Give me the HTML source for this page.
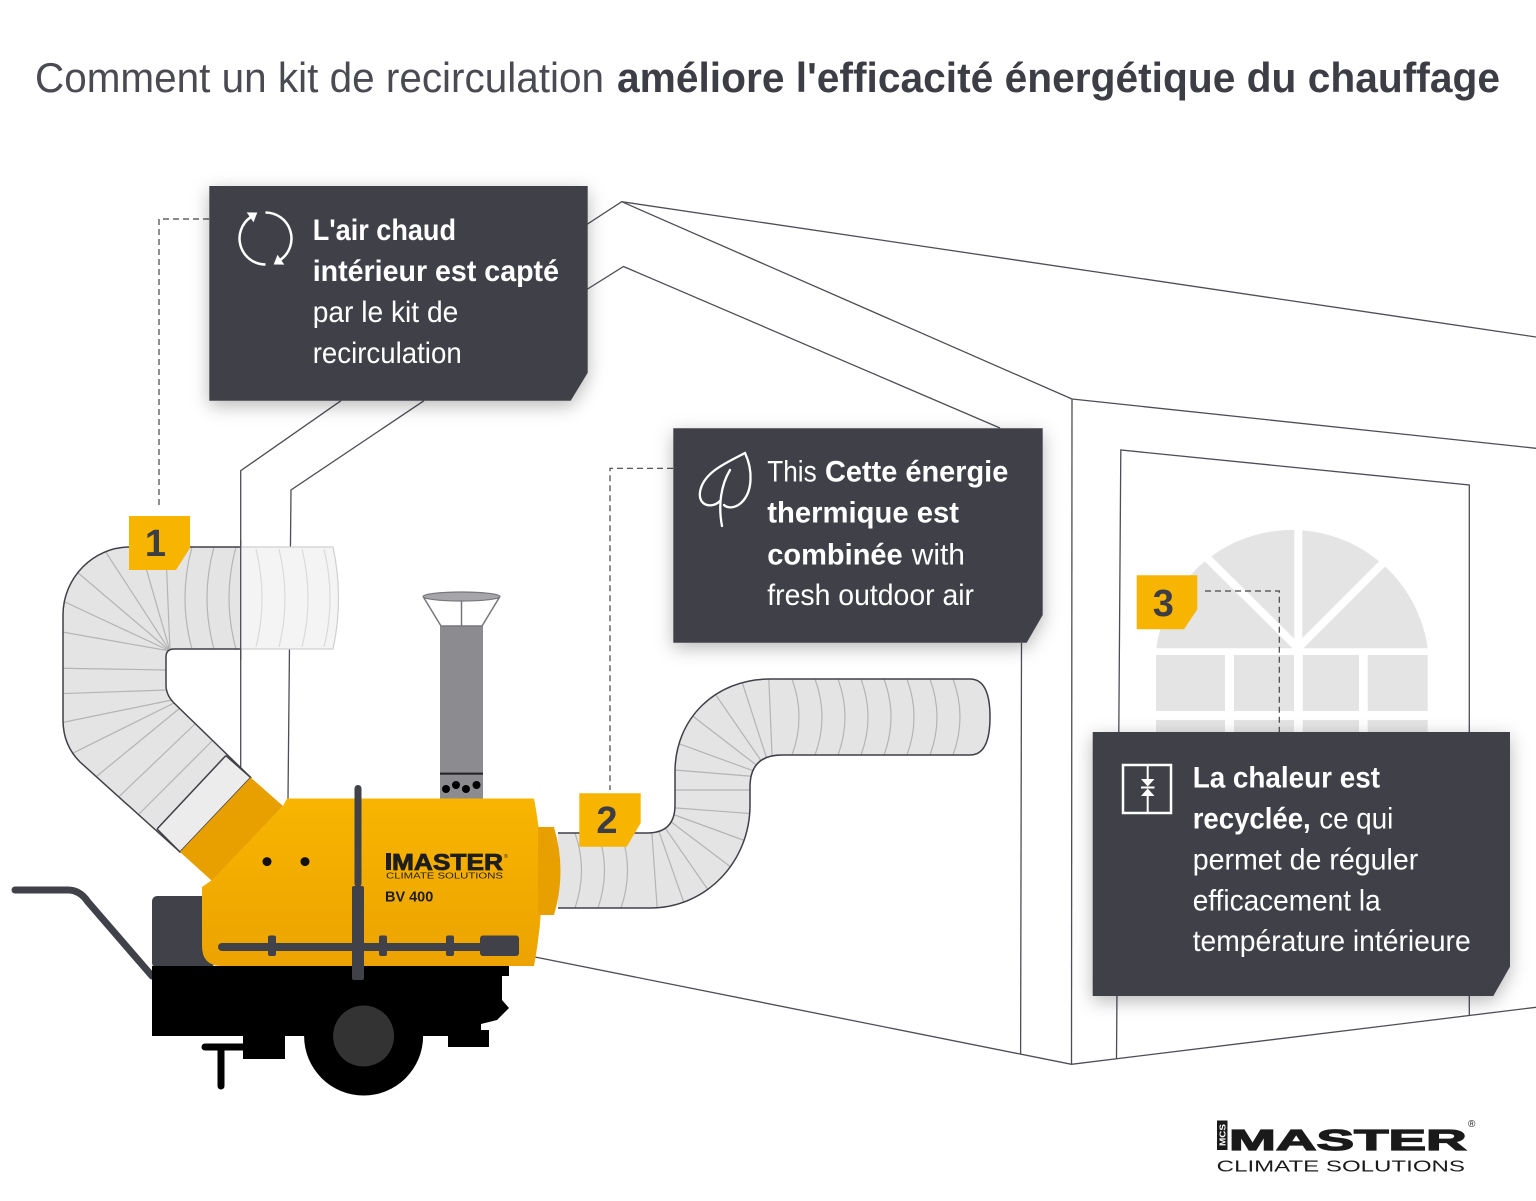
<!DOCTYPE html>
<html>
<head>
<meta charset="utf-8">
<style>
html,body{margin:0;padding:0;background:#fff;}
svg{display:block;}
text{font-family:"Liberation Sans",sans-serif;}
</style>
</head>
<body>
<svg width="1536" height="1201" viewBox="0 0 1536 1201" xmlns="http://www.w3.org/2000/svg">
<defs>
  <filter id="sh" x="-20%" y="-20%" width="140%" height="150%">
    <feDropShadow dx="0" dy="5" stdDeviation="9" flood-color="#000" flood-opacity="0.28"/>
  </filter>
  <linearGradient id="yb" x1="0" y1="0" x2="0" y2="1">
    <stop offset="0" stop-color="#f8b500"/>
    <stop offset="1" stop-color="#eca300"/>
  </linearGradient>
  <clipPath id="d1c"><path d="M240,547 L130,547 C93,547 63,578 63,615 L63,720 Q63,745 80,762 L180,852 L250.7,777.5 L174,703 Q166,695 166,685 L166,657 Q166,649 174,649 L240,649 Z"/></clipPath>
  <clipPath id="d2c"><path d="M558,833 L647,833 Q675,833 675,805 L675,772 C675,718 716,679 770,679 L970,679 Q990,679 990,717 Q990,755 970,755 L782,755 Q750,755 750,787 L750,805 C750,862 706,908 650,908 L558,908 Z"/></clipPath>
  <clipPath id="archc"><rect x="1150" y="520" width="290" height="128.3"/></clipPath>
</defs>

<!-- Title -->
<text x="35" y="92" font-size="42" fill="#4a4a52" textLength="569" lengthAdjust="spacingAndGlyphs">Comment un kit de recirculation</text>
<text x="617" y="92" font-size="42" font-weight="bold" fill="#3d3d45" textLength="883" lengthAdjust="spacingAndGlyphs">améliore l'efficacité énergétique du chauffage</text>

<!-- House lines -->
<g fill="none" stroke="#4d4d55" stroke-width="1.3">
  <path d="M586,225 L621.7,201.7 L1536,337"/>
  <path d="M621.7,201.7 L1072,399"/>
  <path d="M586,290 L623.5,266.5 L1000,428"/>
  <path d="M1072,399 L1536,448.3"/>
  <path d="M1072,399 L1071.5,1064.3"/>
  <path d="M1021.5,643 L1020.6,1054"/>
  <path d="M520,954 L1071.5,1064.3 L1536,1007.3"/>
  <path d="M1116.5,1058.7 L1120.8,450 L1469.3,485 L1469.3,1016"/>
  <path d="M341,400.7 L240.7,470.7 L240.7,778"/>
  <path d="M424,400.7 L291,490 L288,799"/>
</g>

<!-- Window -->
<g fill="#e4e4e4">
  <g clip-path="url(#archc)">
    <circle cx="1292" cy="667" r="137"/>
  </g>
  <rect x="1156" y="655" width="69" height="56"/>
  <rect x="1234" y="655" width="60" height="56"/>
  <rect x="1302.7" y="655" width="56.3" height="56"/>
  <rect x="1367.7" y="655" width="60" height="56"/>
  <rect x="1156" y="720" width="69" height="20"/>
  <rect x="1234" y="720" width="60" height="20"/>
  <rect x="1302.7" y="720" width="56.3" height="20"/>
  <rect x="1367.7" y="720" width="60" height="20"/>
</g>
<g stroke="#fff" stroke-width="8" fill="none">
  <line x1="1298.3" y1="520" x2="1298.3" y2="650"/>
  <line x1="1298" y1="648" x2="1203" y2="554"/>
  <line x1="1298" y1="648" x2="1388" y2="558"/>
</g>

<!-- Faded duct extension -->
<path d="M240,547 L333,547 Q344,598 333,649 L240,649 Z" fill="#f4f4f4" stroke="#cfcfcf" stroke-width="1.2"/>
<g fill="none" stroke="#dadada" stroke-width="1.2">
  <path d="M256,549 Q268,598 256,647"/>
  <path d="M279,549 Q291,598 279,647"/>
  <path d="M302,549 Q314,598 302,647"/>
  <path d="M324,549 Q336,598 324,647"/>
</g>
<line x1="240.7" y1="540" x2="240.7" y2="660" stroke="#4d4d55" stroke-width="1.3"/>

<!-- Duct 1 -->
<path d="M240,547 L130,547 C93,547 63,578 63,615 L63,720 Q63,745 80,762 L180,852 L250.7,777.5 L174,703 Q166,695 166,685 L166,657 Q166,649 174,649 L240,649 Z" fill="#e4e4e4"/>
<g clip-path="url(#d1c)" fill="none" stroke="#b4b4b4" stroke-width="1.2">
  <path d="M192,547 Q178,598 192,649"/>
  <path d="M214,547 Q200,598 214,649"/>
  <path d="M236,547 Q222,598 236,649"/>
  <line x1="170" y1="651" x2="45" y2="629"/>
  <line x1="170" y1="651" x2="52" y2="596"/>
  <line x1="170" y1="651" x2="70" y2="566"/>
  <line x1="170" y1="651" x2="98" y2="540"/>
  <line x1="170" y1="651" x2="135" y2="530"/>
  <line x1="170" y1="651" x2="165" y2="530"/>
  <line x1="166" y1="670" x2="50" y2="668"/>
  <line x1="166" y1="690" x2="50" y2="694"/>
  <line x1="172" y1="700" x2="50" y2="725"/>
  <line x1="174" y1="703" x2="55" y2="762"/>
  <line x1="180" y1="708" x2="80" y2="790"/>
  <line x1="195" y1="724" x2="105" y2="810"/>
  <line x1="212" y1="741" x2="128" y2="825"/>
</g>
<path d="M240,547 L130,547 C93,547 63,578 63,615 L63,720 Q63,745 80,762 L180,852 L250.7,777.5 L174,703 Q166,695 166,685 L166,657 Q166,649 174,649 L240,649" fill="none" stroke="#3f3f47" stroke-width="1.5"/>
<path d="M225.8,755.6 L157,829 L180,852 L250.7,777.5 Z" fill="#ececec"/>
<line x1="225.8" y1="755.6" x2="157" y2="829" stroke="#3f3f47" stroke-width="1.5"/>
<path d="M157,829 L180,852 L250.7,777.5 L225.8,755.6" fill="none" stroke="#3f3f47" stroke-width="1.5"/>

<!-- Duct 2 -->
<path d="M558,833 L647,833 Q675,833 675,805 L675,772 C675,718 716,679 770,679 L970,679 Q990,679 990,717 Q990,755 970,755 L782,755 Q750,755 750,787 L750,805 C750,862 706,908 650,908 L558,908 Z" fill="#e4e4e4"/>
<g clip-path="url(#d2c)" fill="none" stroke="#b4b4b4" stroke-width="1.2">
  <path d="M792,679 Q806,717 792,755"/>
  <path d="M815,679 Q829,717 815,755"/>
  <path d="M838,679 Q852,717 838,755"/>
  <path d="M861,679 Q875,717 861,755"/>
  <path d="M884,679 Q898,717 884,755"/>
  <path d="M907,679 Q921,717 907,755"/>
  <path d="M930,679 Q944,717 930,755"/>
  <path d="M953,679 Q967,717 953,755"/>
  <line x1="773" y1="778" x2="650" y2="768"/>
  <line x1="773" y1="778" x2="655" y2="735"/>
  <line x1="773" y1="778" x2="672" y2="700"/>
  <line x1="773" y1="778" x2="700" y2="672"/>
  <line x1="773" y1="778" x2="735" y2="660"/>
  <line x1="773" y1="778" x2="768" y2="660"/>
  <line x1="670" y1="790" x2="760" y2="790"/>
  <line x1="650" y1="806" x2="770" y2="815"/>
  <line x1="650" y1="806" x2="765" y2="848"/>
  <line x1="650" y1="806" x2="748" y2="880"/>
  <line x1="650" y1="806" x2="722" y2="910"/>
  <line x1="650" y1="806" x2="690" y2="920"/>
  <line x1="650" y1="806" x2="658" y2="920"/>
  <path d="M575,833 Q588,870 575,908"/>
  <path d="M598,833 Q611,870 598,908"/>
  <path d="M621,833 Q634,870 621,908"/>
</g>
<path d="M558,833 L647,833 Q675,833 675,805 L675,772 C675,718 716,679 770,679 L970,679 Q990,679 990,717 Q990,755 970,755 L782,755 Q750,755 750,787 L750,805 C750,862 706,908 650,908 L558,908" fill="none" stroke="#3f3f47" stroke-width="1.5"/>

<!-- Heater: tow handle, stand, chassis -->
<path d="M15,890 L68,890 Q80,890 88,902 L152,976" fill="none" stroke="#414149" stroke-width="7" stroke-linecap="round" stroke-linejoin="round"/>
<path d="M205,1047 H245 M221,1047 V1086" stroke="#000" stroke-width="7" stroke-linecap="round" fill="none"/>
<rect x="152" y="896" width="62" height="72" rx="5" fill="#414149"/>
<path d="M152,966 H509 V976 H502 V1000 L509,1008 L497,1020 L481,1024 V1030 H489 V1047 H448 V1036 H285 V1059 H243 V1036 H152 Z" fill="#000"/>
<circle cx="363.6" cy="1036" r="59.5" fill="#000"/>
<circle cx="363.6" cy="1036" r="30.5" fill="#333"/>

<!-- Chimney -->
<rect x="440" y="626" width="43" height="173" fill="#8b8b90"/>
<line x1="440" y1="773.6" x2="483" y2="773.6" stroke="#222" stroke-width="2"/>
<g fill="#000">
  <circle cx="446" cy="789" r="4"/>
  <circle cx="456" cy="785" r="4"/>
  <circle cx="466" cy="789" r="4"/>
  <circle cx="476.5" cy="785" r="4"/>
</g>
<path d="M424,598 L499,598 L482,626 L441,626 Z" fill="#fff" stroke="#77777c" stroke-width="1.5"/>
<line x1="461.5" y1="598" x2="461.5" y2="626" stroke="#77777c" stroke-width="1.5"/>
<ellipse cx="461.5" cy="596.5" rx="38.5" ry="4.5" fill="#a5a5aa" stroke="#77777c" stroke-width="1.2"/>

<!-- Collar + body -->
<path d="M250.7,777.5 L283,806 L212,881 L180,852 Z" fill="#e8a000"/>
<path d="M287,798.5 L534,798.5 Q550,882 534,966 L222,966 Q202,966 202,946 L202,887 L212,880 L283,806 Z" fill="url(#yb)"/>
<path d="M538,827 L554,827 Q567,871 554,915 L538,915 Z" fill="#e8a000"/>

<!-- Body details -->
<circle cx="267" cy="861.6" r="4.5" fill="#111"/>
<circle cx="305" cy="861.6" r="4.5" fill="#111"/>
<rect x="354.5" y="785" width="7" height="102" rx="3.5" fill="#414149"/>
<rect x="352" y="886" width="12" height="94" rx="2" fill="#414149"/>
<rect x="218" y="943" width="266" height="8" rx="4" fill="#414149"/>
<rect x="480" y="935.5" width="39" height="20.5" rx="3" fill="#414149"/>
<rect x="268" y="935.5" width="8" height="20.5" rx="2" fill="#414149"/>
<rect x="379" y="935.5" width="8" height="20.5" rx="2" fill="#414149"/>
<rect x="446" y="935.5" width="8" height="20.5" rx="2" fill="#414149"/>

<!-- Body logo -->
<rect x="386" y="853" width="5" height="17" fill="#1e1e1e"/>
<text x="392" y="870" font-size="23" font-weight="bold" fill="#1e1e1e" stroke="#1e1e1e" stroke-width="0.8" textLength="111" lengthAdjust="spacingAndGlyphs">MASTER</text>
<text x="504" y="858" font-size="5" fill="#1e1e1e">®</text>
<text x="386" y="878.5" font-size="8" fill="#1e1e1e" textLength="117" lengthAdjust="spacingAndGlyphs">CLIMATE SOLUTIONS</text>
<text x="385" y="901.7" font-size="15" font-weight="bold" fill="#1e1e1e" textLength="48.3" lengthAdjust="spacingAndGlyphs">BV 400</text>

<!-- Dashed leaders -->
<g fill="none" stroke="#444" stroke-width="1.2" stroke-dasharray="6 4">
  <path d="M209,219 H159 V508"/>
  <path d="M673,468.3 H610 V790"/>
  <path d="M1205,591 H1279.3 V732"/>
</g>

<!-- Box 1 -->
<path d="M209.3,186 H587.7 V372.7 L570.7,400.7 H209.3 Z" fill="#414149" filter="url(#sh)"/>
<g fill="none" stroke="#fff" stroke-width="2.5">
  <path d="M265.5,212.5 A26,26 0 0 1 280.4,259.8"/>
  <path d="M265.5,264.5 A26,26 0 0 1 250.6,217.2"/>
</g>
<polygon points="273.7,264.5 284.3,264.6 277.5,254.7" fill="#fff"/>
<polygon points="257.3,212.5 246.7,212.4 253.5,222.3" fill="#fff"/>
<g fill="#fff" font-size="30">
  <text x="312.7" y="240" font-weight="bold" textLength="143.3" lengthAdjust="spacingAndGlyphs">L'air chaud</text>
  <text x="312.7" y="281" font-weight="bold" textLength="246.3" lengthAdjust="spacingAndGlyphs">intérieur est capté</text>
  <text x="312.7" y="322" textLength="145.6" lengthAdjust="spacingAndGlyphs">par le kit de</text>
  <text x="312.7" y="363" textLength="149" lengthAdjust="spacingAndGlyphs">recirculation</text>
</g>

<!-- Box 2 -->
<path d="M673.3,428.3 H1042.7 V615 L1026.7,642.7 H673.3 Z" fill="#414149" filter="url(#sh)"/>
<g fill="none" stroke="#fff" stroke-width="2.3" stroke-linecap="round">
  <path d="M745,453 C728,462 703,472 700,492 C698,506 712,509 720,501"/>
  <path d="M745,453 C753,470 753,492 741,503 C734,509 727,508 724,505"/>
  <path d="M730,470 C721,485 718,505 722,526"/>
</g>
<g fill="#fff" font-size="30">
  <text x="767.3" y="481.7" textLength="49.4" lengthAdjust="spacingAndGlyphs">This</text>
  <text x="825" y="481.7" font-weight="bold" textLength="183.3" lengthAdjust="spacingAndGlyphs">Cette énergie</text>
  <text x="767.3" y="522.7" font-weight="bold" textLength="191.7" lengthAdjust="spacingAndGlyphs">thermique est</text>
  <text x="767.3" y="564.3" font-weight="bold" textLength="135.4" lengthAdjust="spacingAndGlyphs">combinée</text>
  <text x="911.7" y="564.3" textLength="53.3" lengthAdjust="spacingAndGlyphs">with</text>
  <text x="767.3" y="605" textLength="206.7" lengthAdjust="spacingAndGlyphs">fresh outdoor air</text>
</g>

<!-- Box 3 -->
<path d="M1092.7,732 H1510 V966.7 L1493.3,996 H1092.7 Z" fill="#414149" filter="url(#sh)"/>
<rect x="1123" y="765" width="48" height="48" fill="none" stroke="#fff" stroke-width="2.5"/>
<g stroke="#fff" stroke-width="2">
  <line x1="1147.7" y1="765" x2="1147.7" y2="780"/>
  <line x1="1147.7" y1="795" x2="1147.7" y2="813"/>
  <line x1="1141" y1="787.5" x2="1154.5" y2="787.5"/>
</g>
<polygon points="1141,779 1154.5,779 1147.7,786.5" fill="#fff"/>
<polygon points="1141,796 1154.5,796 1147.7,788.5" fill="#fff"/>
<g fill="#fff" font-size="30">
  <text x="1192.7" y="787.7" font-weight="bold" textLength="187.3" lengthAdjust="spacingAndGlyphs">La chaleur est</text>
  <text x="1192.7" y="828.3" font-weight="bold" textLength="118" lengthAdjust="spacingAndGlyphs">recyclée,</text>
  <text x="1319.3" y="828.3" textLength="74" lengthAdjust="spacingAndGlyphs">ce qui</text>
  <text x="1192.7" y="869.3" textLength="225.6" lengthAdjust="spacingAndGlyphs">permet de réguler</text>
  <text x="1192.7" y="910.7" textLength="188" lengthAdjust="spacingAndGlyphs">efficacement la</text>
  <text x="1192.7" y="951" textLength="278" lengthAdjust="spacingAndGlyphs">température intérieure</text>
</g>

<!-- Number labels -->
<path d="M129,516 H190 V548 L176,570 H129 Z" fill="#f7b400"/>
<text x="155.5" y="556" font-size="38" font-weight="bold" fill="#3d3d45" text-anchor="middle">1</text>
<path d="M579.3,793.3 H640.7 V823 L626.7,846.7 H579.3 Z" fill="#f7b400"/>
<text x="607" y="833" font-size="38" font-weight="bold" fill="#3d3d45" text-anchor="middle">2</text>
<path d="M1136.7,575.3 H1197.3 V609.3 L1184,629.3 H1136.7 Z" fill="#f7b400"/>
<text x="1163.3" y="616" font-size="38" font-weight="bold" fill="#3d3d45" text-anchor="middle">3</text>

<!-- Bottom logo -->
<rect x="1217" y="1120.5" width="10.5" height="29.5" fill="#1a1a1a"/>
<text transform="translate(1225.3,1146) rotate(-90)" font-size="8" font-weight="bold" fill="#fff" textLength="22" lengthAdjust="spacingAndGlyphs">MCS</text>
<text x="1229" y="1150" font-size="29" font-weight="bold" fill="#1a1a1a" stroke="#1a1a1a" stroke-width="1.2" textLength="237.7" lengthAdjust="spacingAndGlyphs">MASTER</text>
<text x="1468" y="1127" font-size="10" fill="#1a1a1a">®</text>
<text x="1216.7" y="1171.7" font-size="16" fill="#1a1a1a" textLength="248.3" lengthAdjust="spacingAndGlyphs">CLIMATE SOLUTIONS</text>
</svg>
</body>
</html>
